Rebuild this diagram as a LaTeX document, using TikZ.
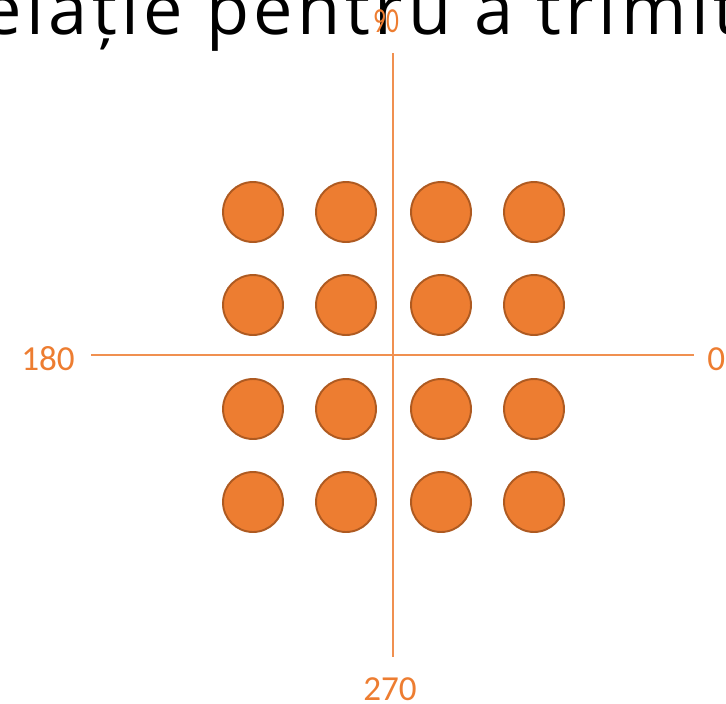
\documentclass[tikz,border=0pt]{standalone}
\usepackage{fontspec}
\setmainfont{Carlito}
\newfontfamily\titlefont[LetterSpace=6.5]{Open Sans}
\usetikzlibrary{positioning}
\definecolor{DotOrange}{HTML}{ED7D31}
\definecolor{DotEdge}{HTML}{AE5A21}

\begin{document}
\begin{tikzpicture}[x=0.02cm, y=-0.02cm,
  dot/.style={circle, draw=DotEdge, line width=1.1pt, fill=DotOrange, minimum size=1.2cm, inner sep=0pt},
  axis/.style={draw=DotOrange!85, line width=0.6pt},
  angle/.style={text=DotOrange, font=\fontsize{20}{24}\selectfont, inner sep=0pt}]
\useasboundingbox (0,0) rectangle (726,703);
\clip (0,0) rectangle (726,703);

% cut-off slide title
\node[anchor=base west, inner sep=0pt, font=\titlefont\fontsize{40}{47}\selectfont] (title) at (-18,34) {elație pentru a trimite};

% axes
\coordinate (top) at (393,53);
\coordinate (bottom) at (393,657);
\coordinate (left) at (91,355);
\coordinate (right) at (694,355);
\draw[axis] (left) -- (right);
\draw[axis] (top) -- (bottom);

\node[angle, xscale=0.72] (l90) at (386,21) {90};
\node[angle] (l180) at (48,359) {180};
\node[angle, anchor=west] (l0) at (707,359) {0};
\node[angle] (l270) at (390,689) {270};

% 16-point constellation
\foreach \c [count=\i] in {253,346,441,534}{
  \foreach \r [count=\j] in {212,305,409,502}{
    \node[dot] (d\i\j) at (\c,\r) {};
  }
}

\end{tikzpicture}
\end{document}
